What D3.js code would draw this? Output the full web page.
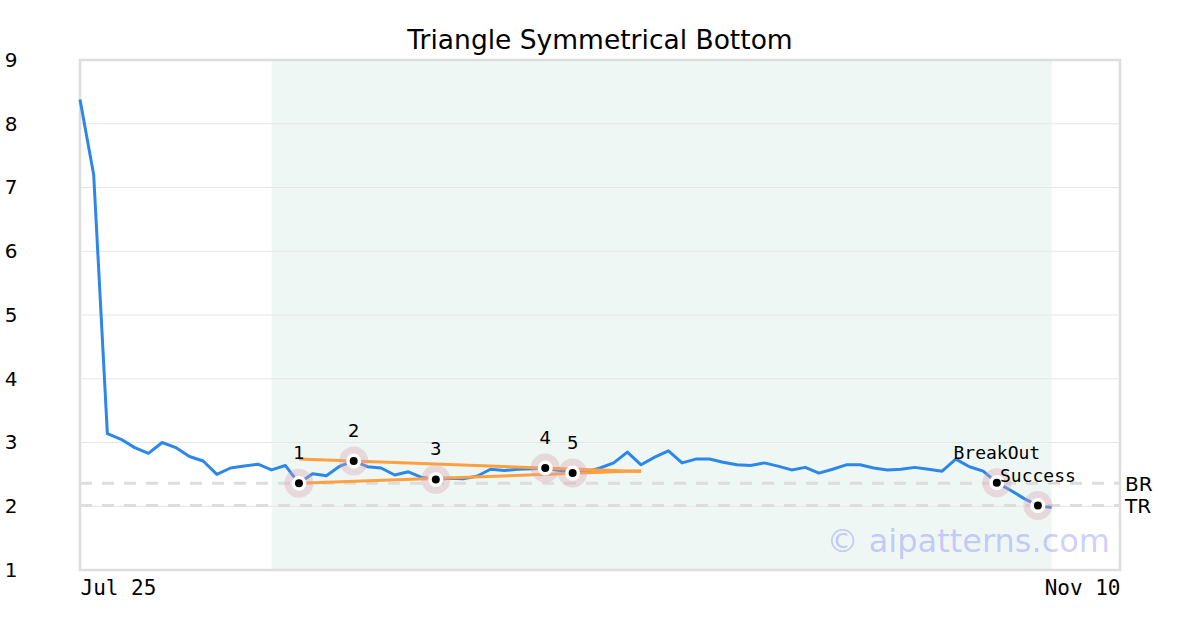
<!DOCTYPE html>
<html>
<head>
<meta charset="utf-8">
<script src="https://cdn.jsdelivr.net/npm/d3@7"></script>
<style>
  html, body { margin: 0; padding: 0; background: #fff; }
  svg { display: block; }
</style>
</head>
<body>
<svg id="chart" width="1200" height="630"></svg>
<script>
// ---- data ----
const title = "Triangle Symmetrical Bottom";
const prices = [
  8.38, 7.20, 3.14, 3.05, 2.92, 2.83, 3.00, 2.92, 2.78, 2.71,
  2.50, 2.60, 2.63, 2.66, 2.57, 2.64, 2.36, 2.51, 2.48, 2.63,
  2.71, 2.62, 2.60, 2.49, 2.54, 2.45, 2.42, 2.44, 2.43, 2.47,
  2.58, 2.56, 2.58, 2.59, 2.60, 2.56, 2.52, 2.54, 2.60, 2.68,
  2.85, 2.65, 2.77, 2.87, 2.68, 2.74, 2.74, 2.69, 2.65, 2.64,
  2.68, 2.63, 2.57, 2.61, 2.52, 2.58, 2.65, 2.65, 2.60, 2.57,
  2.58, 2.61, 2.58, 2.55, 2.74, 2.62, 2.55, 2.37, 2.25, 2.12,
  2.01, 1.98
];
const xTickIndex = [0, 76];
const xTickLabels = ["Jul 25", "Nov 10"];
const yTicks = [1, 2, 3, 4, 5, 6, 7, 8, 9];
const patternIndex = [16, 20, 26, 34, 36];
const patternLabels = ["1", "2", "3", "4", "5"];
const eventIndex = [67, 70];
const eventLabels = ["BreakOut", "Success"];
const upperTrendIndex = [16, 41];
const upperTrendValues = [2.74, 2.545];
const lowerTrendIndex = [16, 41];
const lowerTrendValues = [2.36, 2.555];
const shadeRange = [14, 71];
const levelNames = ["BR", "TR"];
const levelValues = [2.36, 2.01];
const watermark = "\u00a9 aipatterns.com";

// ---- layout ----
const svg = d3.select("#chart");
const L = 80, R = 1120, T = 60, B = 570;
const x = d3.scaleLinear().domain([0, 76]).range([L, R]);
const y = d3.scaleLinear().domain([1, 9]).range([B, T]);
const sans = "DejaVu Sans, sans-serif";
const mono = "DejaVu Sans Mono, monospace";

// shaded region
svg.append("rect")
  .attr("x", x(shadeRange[0])).attr("y", T)
  .attr("width", x(shadeRange[1]) - x(shadeRange[0]))
  .attr("height", B - T)
  .attr("fill", "#eef7f3");

// gridlines
svg.append("g").selectAll("line")
  .data(yTicks.filter(d => d > 1 && d < 9))
  .join("line")
  .attr("x1", L).attr("x2", R)
  .attr("y1", d => y(d)).attr("y2", d => y(d))
  .attr("stroke", "#e6e6e6").attr("stroke-width", 1.2);

// BR / TR dashed levels
svg.append("g").selectAll("line")
  .data(levelValues)
  .join("line")
  .attr("x1", L).attr("x2", R)
  .attr("y1", d => y(d)).attr("y2", d => y(d))
  .attr("stroke", "#dddddd").attr("stroke-width", 3)
  .attr("stroke-dasharray", "12,10");

svg.append("g").selectAll("text")
  .data(levelValues)
  .join("text")
  .attr("x", R + 5).attr("y", d => y(d)).attr("dy", "0.36em")
  .attr("font-family", sans).attr("font-size", 20).attr("fill", "#000")
  .text((d, i) => levelNames[i]);

// frame
svg.append("rect")
  .attr("x", L).attr("y", T).attr("width", R - L).attr("height", B - T)
  .attr("fill", "none").attr("stroke", "#dddddd").attr("stroke-width", 2.5);

// price line
const line = d3.line().x((d, i) => x(i)).y(d => y(d));
svg.append("path")
  .datum(prices)
  .attr("d", line)
  .attr("fill", "none").attr("stroke", "#2d87ea").attr("stroke-width", 3)
  .attr("stroke-linejoin", "round");

// trend lines
const tl = d3.line().x(d => x(d[0])).y(d => y(d[1]));
[[upperTrendIndex, upperTrendValues], [lowerTrendIndex, lowerTrendValues]].forEach(([ix, vals]) => {
  svg.append("path")
    .datum(ix.map((d, i) => [d, vals[i]]))
    .attr("d", tl)
    .attr("fill", "none").attr("stroke", "#ffa040").attr("stroke-width", 3);
});

// markers
const markIdx = patternIndex.concat(eventIndex);
const mg = svg.append("g");
mg.selectAll("circle.halo").data(markIdx).join("circle").attr("class", "halo")
  .attr("cx", d => x(d)).attr("cy", d => y(prices[d])).attr("r", 14.5)
  .attr("fill", "#d9a0b0").attr("fill-opacity", 0.35);
mg.selectAll("circle.ring").data(markIdx).join("circle").attr("class", "ring")
  .attr("cx", d => x(d)).attr("cy", d => y(prices[d])).attr("r", 7.5)
  .attr("fill", "#fff");
mg.selectAll("circle.dot").data(markIdx).join("circle").attr("class", "dot")
  .attr("cx", d => x(d)).attr("cy", d => y(prices[d])).attr("r", 4)
  .attr("fill", "#000");

// pattern labels
svg.append("g").selectAll("text")
  .data(patternIndex)
  .join("text")
  .attr("x", d => x(d)).attr("y", d => y(prices[d]) - 24)
  .attr("text-anchor", "middle")
  .attr("font-family", sans).attr("font-size", 18).attr("fill", "#000")
  .text((d, i) => patternLabels[i]);

svg.append("g").selectAll("text")
  .data(eventIndex)
  .join("text")
  .attr("x", d => x(d)).attr("y", d => y(prices[d]) - 24)
  .attr("text-anchor", "middle")
  .attr("font-family", mono).attr("font-size", 18).attr("fill", "#000")
  .text((d, i) => eventLabels[i]);

// watermark
svg.append("text")
  .attr("x", R - 10).attr("y", 552)
  .attr("text-anchor", "end")
  .attr("font-family", sans).attr("font-size", 32)
  .attr("fill", "#5a5aff").attr("fill-opacity", 0.3)
  .text(watermark);

// y axis
const yAxis = svg.append("g")
  .attr("transform", "translate(17.5,0)")
  .call(d3.axisLeft(y).tickValues(yTicks).tickSize(0).tickPadding(0).tickFormat(d3.format("d")));
yAxis.select(".domain").remove();
yAxis.selectAll("text").attr("font-family", sans).attr("font-size", 20).attr("fill", "#000");

// x axis
const xAxis = svg.append("g")
  .attr("transform", `translate(0,${B})`)
  .call(d3.axisBottom(x).tickValues(xTickIndex).tickSize(0).tickPadding(10)
    .tickFormat((d, i) => xTickLabels[i]));
xAxis.select(".domain").remove();
xAxis.selectAll("text")
  .attr("font-family", mono).attr("font-size", 21).attr("fill", "#000")
  .attr("text-anchor", (d, i) => i === 0 ? "start" : "end");

// title
svg.append("text")
  .attr("x", 600).attr("y", 48.5)
  .attr("text-anchor", "middle")
  .attr("font-family", sans).attr("font-size", 26.5).attr("fill", "#000")
  .text(title);
</script>
</body>
</html>
